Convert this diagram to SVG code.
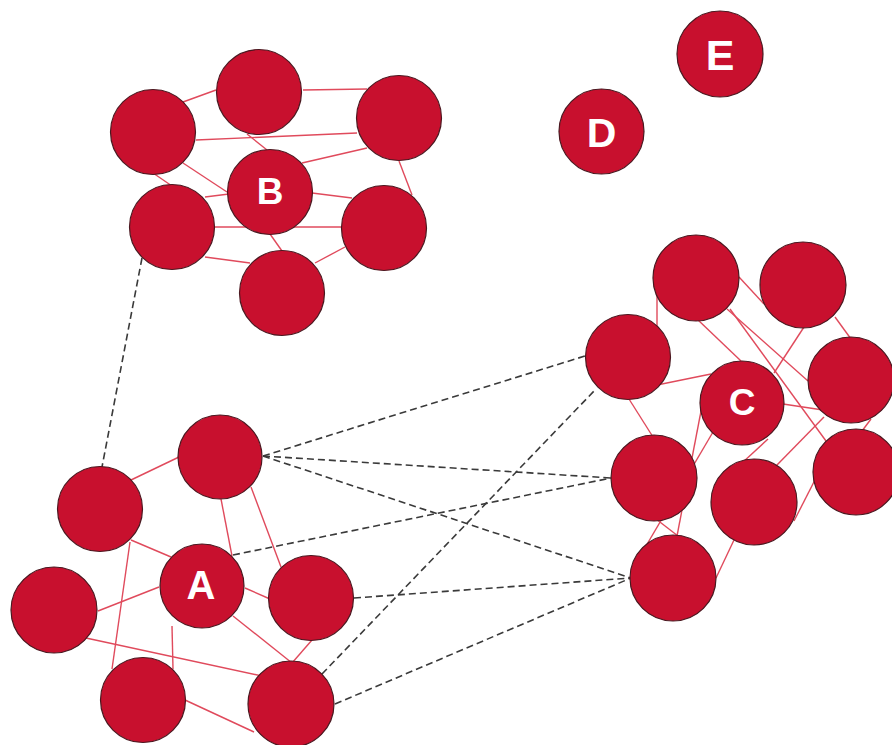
<svg xmlns="http://www.w3.org/2000/svg" width="892" height="745" viewBox="0 0 892 745">
  <style>
    .edge { stroke: #e04a5c; stroke-width: 1.4; fill: none; }
    .link { stroke: #3a3a3a; stroke-width: 1.6; stroke-dasharray: 7 4; fill: none; }
    .node circle { fill: #c8102e; stroke: #4a1820; stroke-width: 1.2; }
    .node text { fill: #ffffff; font-family: "Liberation Sans", Arial, sans-serif; font-weight: bold; text-anchor: middle; }
  </style>
  <rect width="892" height="745" fill="#ffffff"/>

  <!-- connectors: solid edges inside clusters, dashed links between clusters -->
  <g id="connectors">
    <g id="edges-b" class="edge">
      <line x1="183" y1="102" x2="216" y2="90"/>
      <line x1="303" y1="90" x2="367" y2="89"/>
      <line x1="196" y1="140" x2="357" y2="133"/>
      <line x1="247" y1="134" x2="267" y2="150"/>
      <line x1="367" y1="148" x2="302" y2="163"/>
      <line x1="399" y1="161" x2="412" y2="195"/>
      <line x1="183" y1="163" x2="227" y2="192"/>
      <line x1="153" y1="173" x2="172" y2="186"/>
      <line x1="205" y1="197" x2="229" y2="194"/>
      <line x1="312" y1="193" x2="352" y2="198"/>
      <line x1="214" y1="227" x2="342" y2="227"/>
      <line x1="270" y1="234" x2="282" y2="251"/>
      <line x1="205" y1="257" x2="250" y2="263"/>
      <line x1="345" y1="247" x2="315" y2="263"/>
    </g>
    <g id="edges-a" class="edge">
      <line x1="131" y1="480" x2="179" y2="457"/>
      <line x1="221" y1="499" x2="232" y2="556"/>
      <line x1="251" y1="487" x2="281" y2="567"/>
      <line x1="131" y1="540" x2="171" y2="557"/>
      <line x1="130" y1="542" x2="112" y2="669"/>
      <line x1="98" y1="611" x2="159" y2="587"/>
      <line x1="245" y1="588" x2="270" y2="599"/>
      <line x1="172" y1="626" x2="173" y2="669"/>
      <line x1="233" y1="616" x2="292" y2="663"/>
      <line x1="312" y1="640" x2="292" y2="663"/>
      <line x1="86" y1="638" x2="262" y2="676"/>
      <line x1="185" y1="700" x2="254" y2="732"/>
    </g>
    <g id="edges-c" class="edge">
      <line x1="657" y1="291" x2="657" y2="328"/>
      <line x1="697" y1="319" x2="741" y2="361"/>
      <line x1="727" y1="309" x2="808" y2="381"/>
      <line x1="730" y1="309" x2="826" y2="441"/>
      <line x1="739" y1="277" x2="764" y2="304"/>
      <line x1="804" y1="327" x2="774" y2="373"/>
      <line x1="835" y1="317" x2="851" y2="339"/>
      <line x1="657" y1="385" x2="711" y2="374"/>
      <line x1="629" y1="399" x2="653" y2="437"/>
      <line x1="783" y1="404" x2="823" y2="410"/>
      <line x1="702" y1="406" x2="677" y2="536"/>
      <line x1="713" y1="432" x2="646" y2="546"/>
      <line x1="656" y1="519" x2="678" y2="536"/>
      <line x1="742" y1="463" x2="768" y2="439"/>
      <line x1="776" y1="466" x2="824" y2="417"/>
      <line x1="871" y1="419" x2="862" y2="431"/>
      <line x1="818" y1="474" x2="794" y2="521"/>
      <line x1="734" y1="540" x2="716" y2="578"/>
    </g>
    <g id="links" class="link">
      <line x1="142" y1="258" x2="102" y2="467"/>
      <line x1="263" y1="456" x2="585" y2="356"/>
      <line x1="263" y1="456" x2="611" y2="478"/>
      <line x1="263" y1="456" x2="631" y2="578"/>
      <line x1="233" y1="555" x2="611" y2="478"/>
      <line x1="354" y1="598" x2="631" y2="578"/>
      <line x1="322" y1="674" x2="595" y2="390"/>
      <line x1="335" y1="704" x2="631" y2="578"/>
    </g>
  </g>

  <!-- cluster B -->
  <g id="b1" class="node"><circle cx="153" cy="132" r="42.5"/></g>
  <g id="b2" class="node"><circle cx="259" cy="92" r="42.5"/></g>
  <g id="b3" class="node"><circle cx="399" cy="118" r="42.5"/></g>
  <g id="b" class="node"><circle cx="270" cy="192" r="42.5"/><text x="270" y="204" font-size="37">B</text></g>
  <g id="b4" class="node"><circle cx="172" cy="227" r="42.5"/></g>
  <g id="b5" class="node"><circle cx="384" cy="228" r="42.5"/></g>
  <g id="b6" class="node"><circle cx="282" cy="293" r="42.5"/></g>

  <!-- cluster A -->
  <g id="a1" class="node"><circle cx="220" cy="457" r="42"/></g>
  <g id="a2" class="node"><circle cx="100" cy="509" r="42.5"/></g>
  <g id="a" class="node"><circle cx="202" cy="586" r="42"/><text x="201" y="599" font-size="40">A</text></g>
  <g id="a3" class="node"><circle cx="311" cy="598" r="42.5"/></g>
  <g id="a4" class="node"><circle cx="54" cy="610" r="43"/></g>
  <g id="a5" class="node"><circle cx="143" cy="700" r="42.5"/></g>
  <g id="a6" class="node"><circle cx="291" cy="704" r="43"/></g>

  <!-- cluster C -->
  <g id="c1" class="node"><circle cx="696" cy="278" r="43"/></g>
  <g id="c2" class="node"><circle cx="803" cy="285" r="43"/></g>
  <g id="c3" class="node"><circle cx="628" cy="357" r="42.5"/></g>
  <g id="c" class="node"><circle cx="742" cy="403" r="42"/><text x="742" y="415" font-size="37">C</text></g>
  <g id="c4" class="node"><circle cx="851" cy="380" r="43"/></g>
  <g id="c5" class="node"><circle cx="654" cy="478" r="43"/></g>
  <g id="c6" class="node"><circle cx="754" cy="502" r="43"/></g>
  <g id="c7" class="node"><circle cx="856" cy="472" r="43"/></g>
  <g id="c8" class="node"><circle cx="673" cy="578" r="43"/></g>

  <!-- isolated nodes -->
  <g id="d" class="node"><circle cx="601.5" cy="131.5" r="42.5"/><text x="601.5" y="147" font-size="41">D</text></g>
  <g id="e" class="node"><circle cx="720" cy="54" r="43"/><text x="720" y="70" font-size="43">E</text></g>
</svg>
